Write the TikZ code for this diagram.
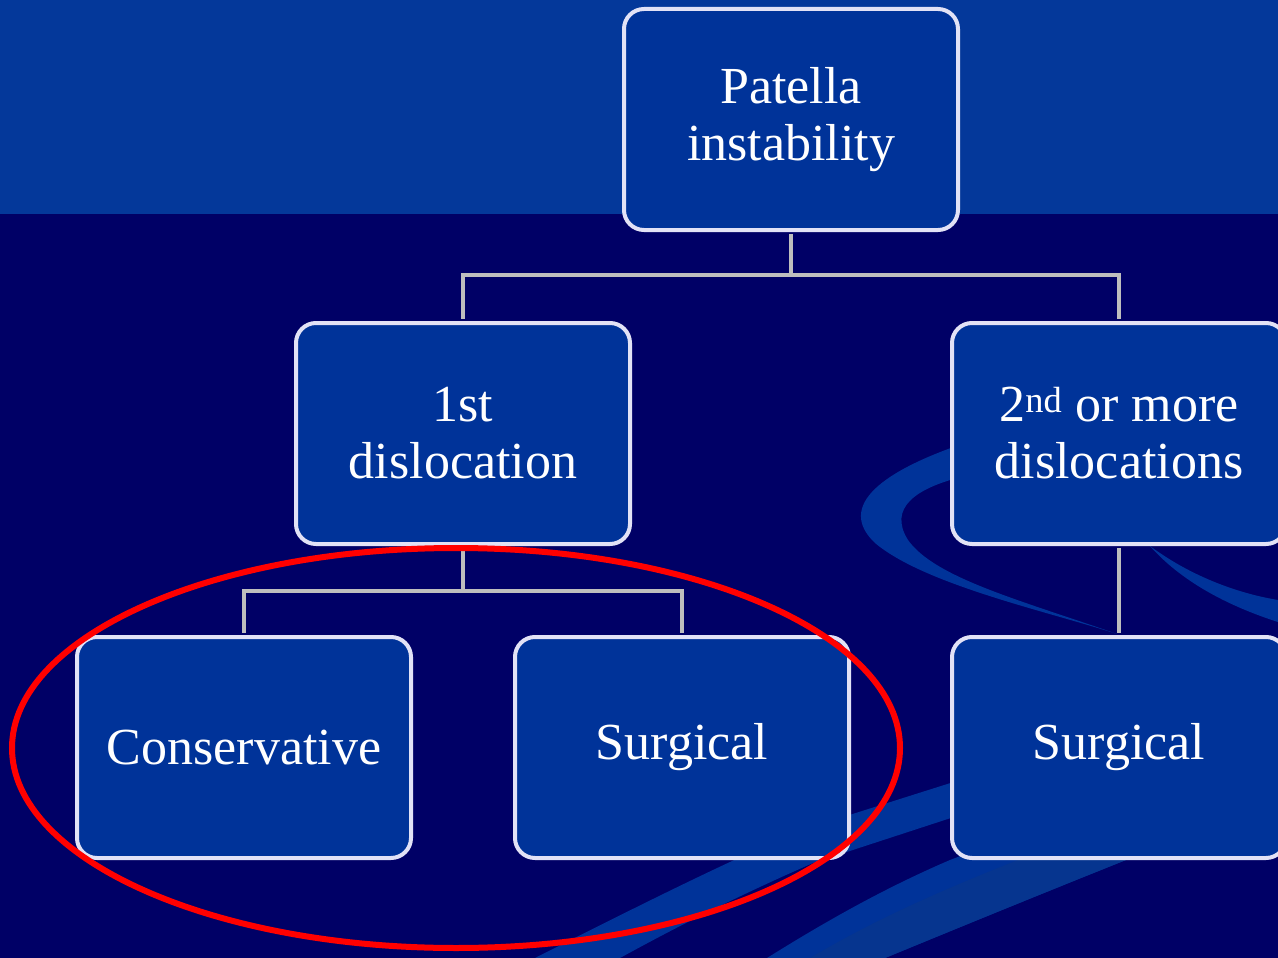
\documentclass[tikz,border=0pt]{standalone}
\usepackage{fontspec}
\setmainfont{Liberation Serif}
\definecolor{bgdark}{HTML}{000066}
\definecolor{bandtop}{HTML}{04389A}
\definecolor{boxfill}{HTML}{003399}
\definecolor{swoosh}{HTML}{003399}
\definecolor{swoosh2}{HTML}{06358F}
\definecolor{boxline}{HTML}{E2E2F6}
\definecolor{connline}{HTML}{BEBEBE}
\tikzset{
  box/.style={draw=boxline, fill=boxfill, line width=4pt, rounded corners=20pt,
    minimum width=334pt, minimum height=221pt, inner sep=0pt,
    text=white, align=center, font=\fontsize{52}{57}\selectfont},
  conn/.style={draw=connline, line width=4pt},
  hl/.style={draw=red, line width=6pt}
}
\begin{document}
\begin{tikzpicture}[x=1pt,y=-1pt]
\useasboundingbox (0,0) rectangle (1278,958);
\fill[bgdark] (0,0) rectangle (1278,958);
\fill[bandtop] (0,0) rectangle (1278,214);
% swooshes
\fill[swoosh] (965,443) .. controls (885,470) and (835,505) .. (875,543)
  .. controls (925,585) and (1050,612) .. (1117,634)
  .. controls (1020,600) and (935,578) .. (908,540)
  .. controls (888,508) and (915,488) .. (965,476) -- cycle;
\fill[swoosh] (1150,546) .. controls (1185,572) and (1230,592) .. (1278,600)
  -- (1278,622) .. controls (1225,605) and (1180,580) .. (1150,546) -- cycle;
\fill[swoosh] (535,958) .. controls (640,905) and (730,860) .. (802,830)
  -- (960,780) -- (960,815) -- (813,863)
  .. controls (740,895) and (680,925) .. (620,958) -- cycle;
\fill[swoosh] (767,958) .. controls (820,925) and (880,890) .. (950,860)
  -- (1278,735) -- (1278,800)
  .. controls (1150,850) and (1050,890) .. (885,958) -- cycle;
\fill[swoosh2] (810,958) .. controls (900,905) and (1000,862) .. (1278,765)
  -- (1278,800) .. controls (1150,850) and (1050,890) .. (885,958) -- cycle;
% nodes
\node[box] (patella) at (791,119.5) {Patella\\instability};
\node[box] (first) at (463,433.5) {1st\\dislocation};
\node[box] (second) at (1119,433.5) {2\textsuperscript{nd} or more\\dislocations};
\node[box] (cons) at (244,747.5) {Conservative};
\node[box] (surg1) at (682,747.5) {Surgical};
\node[box] (surg2) at (1119,747.5) {Surgical};
\coordinate (j1) at (791,275);
\coordinate (j2) at (463,591);
% connectors
\draw[conn] ([yshift=-2pt]patella.south) -- (j1);
\draw[conn] (j1) -| ([yshift=2pt]first.north);
\draw[conn] (j1) -| ([yshift=2pt]second.north);
\draw[conn] ([yshift=-2pt]first.south) -- (j2);
\draw[conn] (j2) -| ([yshift=2pt]cons.north);
\draw[conn] (j2) -| ([yshift=2pt]surg1.north);
\draw[conn] ([yshift=-2pt]second.south) -- ([yshift=2pt]surg2.north);
% highlight
\draw[hl] (456,748) ellipse [x radius=444, y radius=200];
\end{tikzpicture}
\end{document}
